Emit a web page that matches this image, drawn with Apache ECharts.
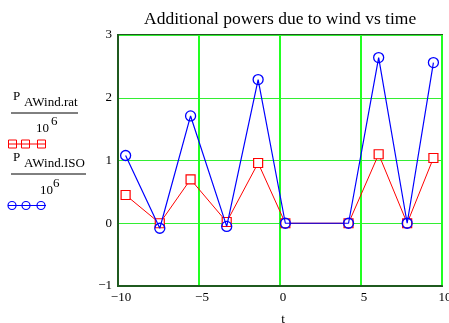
<!DOCTYPE html>
<html>
<head>
<meta charset="utf-8">
<script src="https://cdn.jsdelivr.net/npm/echarts@6/dist/echarts.min.js"></script>
<style>
  html, body { margin: 0; padding: 0; background: #fff; }
  #chart { width: 449px; height: 323px; }
</style>
</head>
<body>
<div id="chart"></div>
<script>
var serif = '"Liberation Serif", "DejaVu Serif", serif';

// time values (x) and the two power series, already divided by 10^6
var tValues = [-9.53, -7.42, -5.52, -3.29, -1.35, 0.33, 4.23, 6.09, 7.85, 9.47];
var pRat    = [0.45, 0.0, 0.70, 0.02, 0.96, 0.0, 0.0, 1.10, 0.0, 1.04];
var pISO    = [1.08, -0.08, 1.71, -0.05, 2.29, 0.0, 0.0, 2.64, 0.0, 2.56];

var titleText = 'Additional powers due to wind vs time';

function pairs(ys) {
    return tValues.map(function (t, i) { return [t, ys[i]]; });
}
function fmtMinus(v) {
    return String(v).replace('-', '\u2212');
}

var gridGreen = '#33ee33';
var frameGreen = '#1f5a1f';

var option = {
    animation: false,
    grid: {
        left: 118, top: 35, right: 7, bottom: 37,
        outerBoundsMode: 'none',
        containLabel: false,
        show: true,
        backgroundColor: 'transparent',
        borderColor: frameGreen,
        borderWidth: 2
    },
    xAxis: {
        type: 'value',
        min: -10, max: 10, interval: 5,
        name: 't',
        nameLocation: 'middle',
        nameGap: 27,
        nameTextStyle: { fontFamily: serif, fontSize: 13, color: '#000', padding: [0, 0, 0, 6] },
        axisLine: { show: true, onZero: false, lineStyle: { color: frameGreen, width: 2 } },
        axisTick: { show: false },
        axisLabel: {
            fontFamily: serif, fontSize: 13, color: '#000', margin: 5,
            padding: [0, 0, 0, 6],
            formatter: fmtMinus
        },
        splitLine: { show: true, lineStyle: { color: '#22ff22', width: 2, opacity: 1 } }
    },
    yAxis: {
        type: 'value',
        min: -1, max: 3, interval: 1,
        axisLine: { show: true, onZero: false, lineStyle: { color: frameGreen, width: 2 } },
        axisTick: { show: false },
        axisLabel: {
            fontFamily: serif, fontSize: 13, color: '#000', margin: 6,
            formatter: fmtMinus
        },
        splitLine: { show: true, lineStyle: { color: gridGreen, width: 1 } }
    },
    graphic: [
        { type: 'text', x: 144, y: 10,
          style: { text: titleText, font: '17.5px ' + serif, fill: '#000' } },
        // legend entry 1
        { type: 'text', x: 13, y: 90, style: { text: 'P', font: '13px ' + serif, fill: '#000' } },
        { type: 'text', x: 24, y: 96, style: { text: 'AWind.rat', font: '13px ' + serif, fill: '#000' } },
        { type: 'line', shape: { x1: 11, y1: 113, x2: 78, y2: 113 }, style: { stroke: '#000', lineWidth: 1 } },
        { type: 'text', x: 36, y: 122, style: { text: '10', font: '13px ' + serif, fill: '#000' } },
        { type: 'text', x: 51, y: 115, style: { text: '6', font: '13px ' + serif, fill: '#000' } },
        { type: 'line', shape: { x1: 8, y1: 144, x2: 46, y2: 144 }, style: { stroke: '#f00', lineWidth: 1 } },
        { type: 'rect', shape: { x: 8.5, y: 140, width: 8, height: 8 }, style: { stroke: '#f00', fill: 'none', lineWidth: 1 } },
        { type: 'rect', shape: { x: 21.5, y: 140, width: 8, height: 8 }, style: { stroke: '#f00', fill: 'none', lineWidth: 1 } },
        { type: 'rect', shape: { x: 37.5, y: 140, width: 8, height: 8 }, style: { stroke: '#f00', fill: 'none', lineWidth: 1 } },
        // legend entry 2
        { type: 'text', x: 13, y: 151, style: { text: 'P', font: '13px ' + serif, fill: '#000' } },
        { type: 'text', x: 24, y: 157, style: { text: 'AWind.ISO', font: '13px ' + serif, fill: '#000' } },
        { type: 'line', shape: { x1: 11, y1: 174, x2: 86, y2: 174 }, style: { stroke: '#000', lineWidth: 1 } },
        { type: 'text', x: 40, y: 184, style: { text: '10', font: '13px ' + serif, fill: '#000' } },
        { type: 'text', x: 53, y: 177, style: { text: '6', font: '13px ' + serif, fill: '#000' } },
        { type: 'line', shape: { x1: 8, y1: 205.5, x2: 46, y2: 205.5 }, style: { stroke: '#00f', lineWidth: 1 } },
        { type: 'circle', shape: { cx: 12, cy: 205.5, r: 4 }, style: { stroke: '#00f', fill: 'none', lineWidth: 1.2 } },
        { type: 'circle', shape: { cx: 26, cy: 205.5, r: 4 }, style: { stroke: '#00f', fill: 'none', lineWidth: 1.2 } },
        { type: 'circle', shape: { cx: 41, cy: 205.5, r: 4 }, style: { stroke: '#00f', fill: 'none', lineWidth: 1.2 } }
    ],
    series: [
        {
            name: 'P AWind.rat / 10^6',
            type: 'line',
            data: pairs(pRat),
            symbol: 'rect',
            symbolSize: 9,
            showAllSymbol: true,
            lineStyle: { color: '#f00', width: 1 },
            itemStyle: { color: '#fff', borderColor: '#f00', borderWidth: 1.2 },
            z: 3
        },
        {
            name: 'P AWind.ISO / 10^6',
            type: 'line',
            data: pairs(pISO),
            symbol: 'circle',
            symbolSize: 10,
            showAllSymbol: true,
            lineStyle: { color: '#00f', width: 1.2 },
            itemStyle: { color: 'rgba(255,255,255,0)', borderColor: '#00f', borderWidth: 1.3 },
            z: 4
        }
    ]
};

var chart = echarts.init(document.getElementById('chart'));
chart.setOption(option);
</script>
</body>
</html>
